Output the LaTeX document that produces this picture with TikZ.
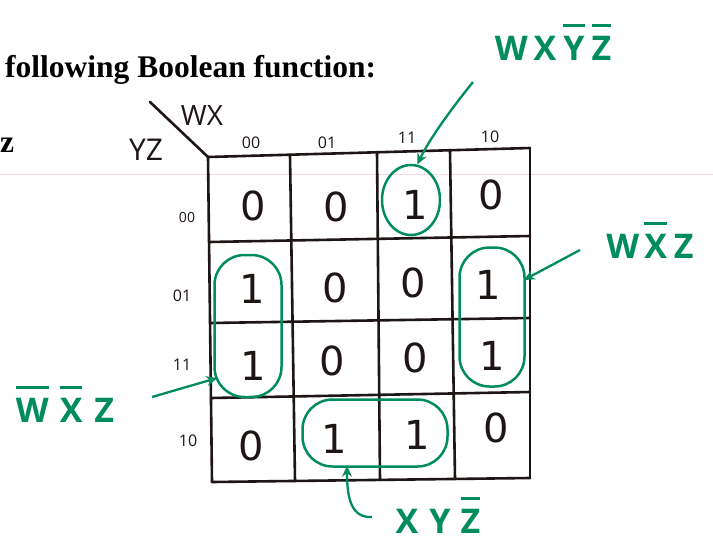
\documentclass[tikz,border=0pt]{standalone}
\usepackage{fontspec}
\setmainfont{Liberation Serif}
\newfontfamily\hand{Open Sans}
\newfontfamily\digits{DejaVu Sans}
\usetikzlibrary{shapes.geometric,arrows.meta,calc}
\definecolor{ink}{RGB}{30,22,20}
\definecolor{mk}{RGB}{0,140,95}
\definecolor{faint}{RGB}{245,215,230}
\newsavebox\obbox
\newcommand\myob[1]{\sbox\obbox{#1}\rlap{\raisebox{\dimexpr\ht\obbox+9pt\relax}{\rule{\wd\obbox}{2.8pt}}}\usebox\obbox}
\begin{document}
\begin{tikzpicture}[x=1pt,y=-1pt,
  gridline/.style={draw=ink,line width=2.6pt,line cap=round},
  val/.style={font=\digits\fontsize{40}{40}\selectfont,text=ink,inner sep=0pt},
  hdr/.style={font=\hand\fontsize{16}{16}\selectfont,text=ink,inner sep=0pt},
  varlab/.style={font=\hand\fontsize{28}{28}\selectfont,text=ink,inner sep=0pt},
  grp/.style={draw=mk,line width=2.5pt,inner sep=0pt},
  term/.style={font=\hand\bfseries\fontsize{34}{34}\selectfont,text=mk,inner sep=0pt,anchor=base},
  garrow/.style={draw=mk,line width=2.3pt,-{Stealth[length=11pt,width=10pt]}},
  heading/.style={font=\bfseries\fontsize{31.5}{31.5}\selectfont,text=black,inner sep=0pt,anchor=base west}
]
\useasboundingbox[fill=white] (0,0) rectangle (713,542);
\draw[faint,line width=0.6pt] (0,174) -- (713,174);

% printed text
\node[heading] (title) at (5,77) {following Boolean function:};
\node[heading] (zz) at (0,152) {z};

% grid coordinates
\coordinate (T0) at (208,157); \coordinate (T1) at (290,155);
\coordinate (T2) at (377,152); \coordinate (T3) at (450,150);
\coordinate (T4) at (530,148);
\coordinate (B0) at (212,482); \coordinate (B1) at (295,481);
\coordinate (B2) at (380,480); \coordinate (B3) at (455,479);
\coordinate (B4) at (530,478);
\coordinate (L0) at (208,157); \coordinate (L1) at (209,242);
\coordinate (L2) at (210,323); \coordinate (L3) at (211,398);
\coordinate (L4) at (212,482);
\coordinate (R0) at (530,148); \coordinate (R1) at (530,236);
\coordinate (R2) at (530,318); \coordinate (R3) at (530,392);
\coordinate (R4) at (530,478);
\coordinate (corner) at (150,102);

\foreach \i in {0,...,4} {\draw[gridline] (T\i) -- (B\i); \draw[gridline] (L\i) -- (R\i);}
\draw[gridline] (corner) -- (T0);

% variable labels
\node[varlab] (wx) at (202,115) {WX};
\node[varlab,font=\hand\fontsize{30}{30}\selectfont] (yz) at (146,150) {YZ};

% column headers
\node[hdr] (h00) at (251,143) {00};
\node[hdr] (h01) at (327,143) {01};
\node[hdr] (h11) at (407,138) {11};
\node[hdr] (h10) at (490,137) {10};
% row headers
\node[hdr,font=\hand\fontsize{14}{14}\selectfont] (r00) at (187,217) {00};
\node[hdr] (r01) at (182,296) {01};
\node[hdr] (r11) at (182,365) {11};
\node[hdr] (r10) at (188,441) {10};

% cell values
\node[val] (c00) at (253,206) {0};
\node[val] (c01) at (336,207) {0};
\node[val] (c02) at (415,205) {1};
\node[val] (c03) at (491,195) {0};
\node[val] (c10) at (252,289) {1};
\node[val] (c11) at (335,288) {0};
\node[val] (c12) at (413,283) {0};
\node[val] (c13) at (488,285) {1};
\node[val] (c20) at (253,366) {1};
\node[val] (c21) at (332,361) {0};
\node[val] (c22) at (415,358) {0};
\node[val] (c23) at (492,356) {1};
\node[val] (c30) at (251,446) {0};
\node[val] (c31) at (334,439) {1};
\node[val] (c32) at (417,435) {1};
\node[val] (c33) at (496,428) {0};

% groups
\node[grp,ellipse,minimum width=58pt,minimum height=70pt] (g1) at (411,200) {};
\node[grp,rectangle,rounded corners=30pt,minimum width=67pt,minimum height=142pt] (g2) at (248,326) {};
\node[grp,rectangle,rounded corners=30pt,minimum width=65pt,minimum height=139pt] (g3) at (492,317) {};
\node[grp,rectangle,rounded corners=30pt,minimum width=145pt,minimum height=67pt] (g4) at (375,433) {};

% term labels
\node[term] (t1) at (553,60) {W\hspace{6pt}X\hspace{7pt}\myob{Y}\hspace{7pt}\myob{Z}};
\node[term] (t2) at (650,258) {W\hspace{5pt}\myob{X}\hspace{7pt}Z};
\node[term] (t3) at (65,422) {\myob{W}\hspace{11pt}\myob{X}\hspace{12pt}Z};
\node[term] (t4) at (438,533) {X\hspace{11pt}Y\hspace{10pt}\myob{Z}};

% arrows
\coordinate (s1) at (473,82);
\coordinate (s2) at (580,250);
\coordinate (s3) at (152,397);
\coordinate (s4) at (372,517);
\draw[garrow] (s1) .. controls (452,108) and (430,138) .. (g1.80);
\draw[garrow] (s2) -- ($(g3.east)+(-2,-37)$);
\draw[garrow] (s3) -- ($(g2.west)+(4,52)$);
\draw[garrow] (s4) .. controls (352,518) and (347,500) .. ($(g4.south)+(-28,-2)$);
\end{tikzpicture}
\end{document}
